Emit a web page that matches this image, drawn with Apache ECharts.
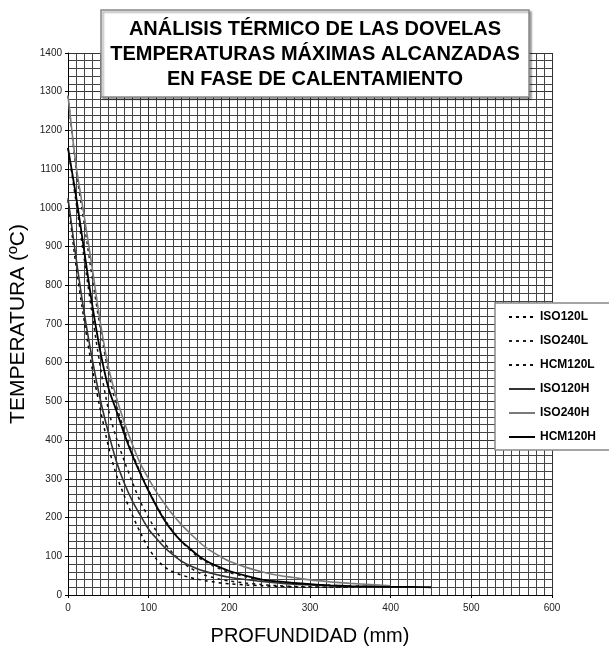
<!DOCTYPE html>
<html><head><meta charset="utf-8">
<script src="https://cdn.jsdelivr.net/npm/echarts@6/dist/echarts.min.js"></script>
<style>html,body{margin:0;padding:0;background:#fff}#c{width:609px;height:648px}</style>
</head><body><div id="c"></div>
<script>
const titleLines = ['ANÁLISIS TÉRMICO DE LAS DOVELAS','TEMPERATURAS MÁXIMAS ALCANZADAS','EN FASE DE CALENTAMIENTO'];
const xName = 'PROFUNDIDAD (mm)';
const yName = 'TEMPERATURA (ºC)';
const depth = [0,10,20,30,40,50,60,70,80,90,100,110,120,130,140,150,160,170,180,190,200,220,240,260,280,300,325,350,375,400,425,450];
const ISO120L = [1020,850,710,585,480,385,310,255,205,160,120,92,72,60,52,46,41,37,34,31,29,26,24,22,21,20,20,20,20,null,null,null];
const ISO240L = [1290,1100,960,820,690,575,490,425,365,315,270,230,195,165,140,118,100,86,75,66,58,47,39,34,30,27,25,23,22,21,20,null];
const HCM120L = [1155,1015,870,725,590,480,405,345,290,240,200,163,133,108,88,72,60,51,45,40,36,31,27,24,22,21,20,20,20,null,null,null];
const ISO120H = [1025,870,730,610,505,420,345,288,242,205,170,145,122,104,88,77,68,61,55,50,46,40,35,31,28,26,24,22,21,20,null,null];
const ISO240H = [1290,1110,980,845,705,590,510,445,388,338,300,265,235,207,183,162,142,124,110,98,87,72,60,51,45,39,34,30,27,24,null,null];
const HCM120H = [1155,1030,890,750,630,536,476,415,360,312,268,228,192,163,140,122,104,90,79,70,62,50,40,35,31,28,25,23,22,21,21,20];
const seriesNames = ['ISO120L','ISO240L','HCM120L','ISO120H','ISO240H','HCM120H'];
const seriesData = [ISO120L, ISO240L, HCM120L, ISO120H, ISO240H, HCM120H];
const styles = [
  {color:'#000', type:[3,4], width:1.5},
  {color:'#222', type:[3,4], width:1.5},
  {color:'#111', type:[3,4], width:1.5},
  {color:'#333', type:'solid', width:1.6},
  {color:'#7a7a7a', type:'solid', width:1.6},
  {color:'#000', type:'solid', width:1.8}
];
const FONT = '"Liberation Sans", Arial, sans-serif';
const chart = echarts.init(document.getElementById('c'));
chart.setOption({
  animation:false,
  backgroundColor:'#fff',
  grid:{left:68, right:57, top:53, bottom:53, outerBoundsMode:'none', containLabel:false},
  xAxis:{type:'value', min:0, max:600, interval:100,
    name:xName, nameLocation:'middle', nameGap:31,
    nameTextStyle:{fontFamily:FONT, fontSize:20, color:'#000'},
    axisLine:{lineStyle:{color:'#000'}},
    axisTick:{show:true, length:3, lineStyle:{color:'#000'}},
    axisLabel:{fontFamily:FONT, fontSize:10, color:'#222', margin:8},
    splitLine:{show:true, lineStyle:{color:'#333', width:1}},
    minorTick:{show:false, splitNumber:10},
    minorSplitLine:{show:true, lineStyle:{color:'#444', width:1}}
  },
  yAxis:{type:'value', min:0, max:1400, interval:100,
    name:yName, nameLocation:'middle', nameGap:37, nameRotate:90,
    nameTextStyle:{fontFamily:FONT, fontSize:21, color:'#000'},
    axisLine:{show:true, lineStyle:{color:'#000'}},
    axisTick:{show:true, length:3, lineStyle:{color:'#000'}},
    axisLabel:{fontFamily:FONT, fontSize:10, color:'#222', margin:6, formatter:(v)=>String(v)},
    splitLine:{show:true, lineStyle:{color:'#333', width:1}},
    minorTick:{show:false, splitNumber:5},
    minorSplitLine:{show:true, lineStyle:{color:'#444', width:1}}
  },
  legend:{show:true, orient:'vertical', left:503, top:306, itemWidth:26, itemHeight:12, itemGap:12, z:20,
    itemStyle:{opacity:0, borderWidth:0},
    textStyle:{fontFamily:FONT, fontSize:12, fontWeight:'bold', color:'#000'},
    data:seriesNames},
  graphic:[
    {type:'rect', z:15, shape:{x:495, y:303, width:130, height:147},
     style:{fill:'#fff', stroke:'#888', lineWidth:1.5}},
    {type:'rect', z:15, shape:{x:101, y:10, width:428, height:87},
     style:{fill:'#fff', stroke:'#888', lineWidth:1.5, shadowColor:'rgba(0,0,0,0.35)', shadowOffsetX:2, shadowOffsetY:2, shadowBlur:2}},
    {type:'text', z:16, style:{text:titleLines.join('\n'), x:315, y:17, textAlign:'center', fontFamily:FONT, fontSize:20, fontWeight:'bold', lineHeight:25, fill:'#000'}}
  ],
  series: seriesNames.map((n,i)=>({
    name:n, type:'line', symbol:'none', smooth:0.3, connectNulls:false,
    lineStyle:styles[i], itemStyle:{color:styles[i].color},
    data: depth.map((d,j)=>[d, seriesData[i][j]])
  }))
});
</script></body></html>
